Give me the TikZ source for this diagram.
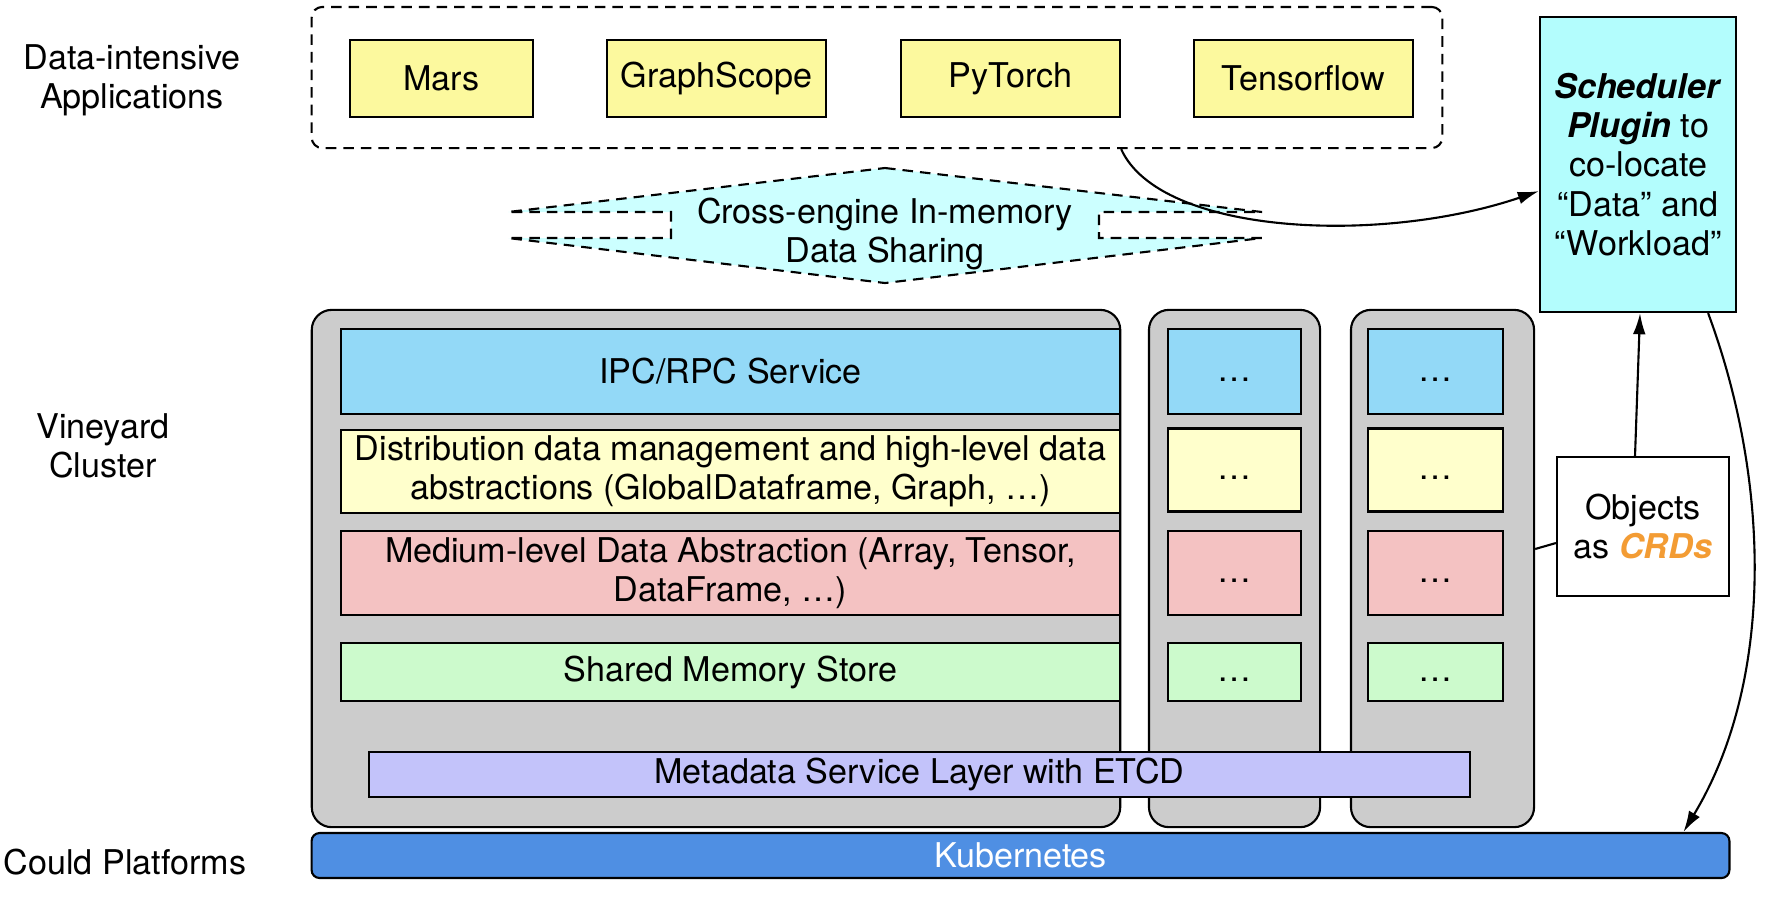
\documentclass[tikz,border=0pt]{standalone}
\usepackage{fontspec}
\setmainfont{TeX Gyre Heros}
\usepackage{tikz}
\usetikzlibrary{arrows.meta}

\definecolor{appyellow}{HTML}{FCF99E}
\definecolor{sharecyan}{HTML}{CCFFFF}
\definecolor{schedcyan}{HTML}{B3FDFD}
\definecolor{ipcblue}{HTML}{93D9F7}
\definecolor{distyellow}{HTML}{FFFFCC}
\definecolor{mediumred}{HTML}{F4C2C2}
\definecolor{shmgreen}{HTML}{CCFACC}
\definecolor{metapurple}{HTML}{C3C3FA}
\definecolor{kubeblue}{HTML}{4F8FE3}
\definecolor{colgrey}{HTML}{CCCCCC}
\definecolor{crdorange}{HTML}{F39C34}

\begin{document}
\begin{tikzpicture}[x=0.01cm, y=-0.01cm, line width=0.6pt,
    every node/.style={font=\fontsize{9.7}{11.2}\selectfont, inner sep=0pt, align=center},
    box/.style={draw},
    dotsbox/.style={draw, text height=0.55em, text depth=0pt},
    dashline/.style={dash pattern=on 3pt off 2pt},
    app/.style={box, fill=appyellow, minimum height=0.77cm},
    column/.style={draw, fill=colgrey, rounded corners=0.2cm, minimum height=5.17cm},
    >={Latex[length=6pt,width=3.6pt]}]
  \useasboundingbox (0,0) rectangle (1780,917);

  % applications
  \node[draw, dashline, rounded corners=3pt, minimum width=11.3cm, minimum height=1.41cm] (apps) at (877,77.5) {};
  \node[app, minimum width=1.83cm] (mars) at (441.5,78.5) {Mars};
  \node[app, minimum width=2.19cm] (graphscope) at (716.5,78.5) {GraphScope};
  \node[app, minimum width=2.19cm] (pytorch) at (1010.5,78.5) {PyTorch};
  \node[app, minimum width=2.19cm] (tensorflow) at (1303.5,78.5) {Tensorflow};

  % data sharing
  \draw[dashline, fill=sharecyan] (885,168) -- (1262,212) -- (1099,212) -- (1099,238) -- (1262,238)
    -- (885,283) -- (508,238) -- (671,238) -- (671,212) -- (508,212) -- cycle;
  \node (share) at (885,234) {Cross-engine In-memory\\Data Sharing};

  % vineyard cluster
  \node[column, minimum width=8.08cm] (col1) at (716,568.5) {};
  \node[column, minimum width=1.71cm] (col2) at (1234.5,568.5) {};
  \node[column, minimum width=1.83cm] (col3) at (1442.5,568.5) {};

  \node[box, fill=ipcblue, minimum width=7.79cm, minimum height=0.85cm] (ipc) at (730.5,371.5) {IPC/RPC Service};
  \node[box, fill=distyellow, minimum width=7.79cm, minimum height=0.83cm] (dist) at (730.5,471.5)
    {Distribution data management and high-level data\\abstractions (GlobalDataframe, Graph, …)};
  \node[box, fill=mediumred, minimum width=7.79cm, minimum height=0.84cm] (medium) at (730.5,573)
    {Medium-level Data Abstraction (Array, Tensor,\\DataFrame, …)};
  \node[box, fill=shmgreen, minimum width=7.79cm, minimum height=0.58cm] (shm) at (730.5,672) {Shared Memory Store};

  \foreach \c/\x/\w in {2/1234.5/1.33cm, 3/1435.5/1.35cm} {
    \node[dotsbox, fill=ipcblue, minimum width=\w, minimum height=0.85cm] (ipc\c) at (\x,371.5) {…};
    \node[dotsbox, fill=distyellow, minimum width=\w, minimum height=0.83cm] (dist\c) at (\x,470) {…};
    \node[dotsbox, fill=mediumred, minimum width=\w, minimum height=0.84cm] (medium\c) at (\x,573) {…};
    \node[dotsbox, fill=shmgreen, minimum width=\w, minimum height=0.58cm] (shm\c) at (\x,672) {…};
  }

  \node[box, fill=metapurple, minimum width=11.01cm, minimum height=0.45cm] (meta) at (919.5,774.5) {Metadata Service Layer with ETCD};
  \node[box, fill=kubeblue, rounded corners=0.08cm, minimum width=14.17cm, minimum height=0.45cm, text=white] (kube) at (1020.5,855.5) {Kubernetes};

  % scheduler
  \node[box, fill=schedcyan, minimum width=1.96cm, minimum height=2.95cm] (sched) at (1638,164.5)
    {\textbf{\textit{Scheduler}}\\\textbf{\textit{Plugin}} to\\co-locate\\“Data” and\\“Workload”};
  \node[box, fill=white, minimum width=1.72cm, minimum height=1.39cm] (objects) at (1643,526.5)
    {Objects\\as \textcolor{crdorange}{\textbf{\textit{CRDs}}}};

  % left labels
  \node (applabel) at (132,80) {Data-intensive\\Applications};
  \node (vinelabel) at (103,446) {Vineyard\\Cluster};
  \node (cloudlabel) at (125,862) {Could Platforms};

  \draw[->] (pytorch.south east |- apps.south) .. controls (1160,235) and (1380,245) .. (sched.195);
  \draw[->] ([xshift=-0.29cm]sched.south east) .. controls (1770,480) and (1775,680) .. ([xshift=-0.47cm]kube.north east);
  \draw[->] ([xshift=-0.08cm]objects.north) -- ([xshift=0.02cm]sched.south);
  \draw ([yshift=0.195cm]col3.east) -- ([yshift=-0.165cm]objects.west);
\end{tikzpicture}
\end{document}
